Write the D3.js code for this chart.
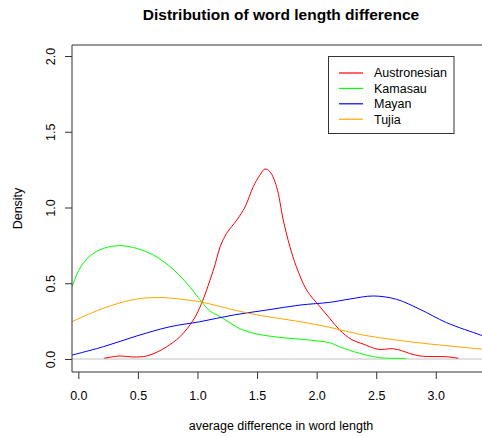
<!DOCTYPE html>
<html><head><meta charset="utf-8">
<script src="https://cdn.jsdelivr.net/npm/d3@7"></script>
<style>html,body{margin:0;padding:0;background:#fff;}svg{display:block;font-family:"Liberation Sans",Arial,sans-serif;}</style>
</head><body>
<svg id="c" width="482" height="437"></svg>
<script>
const seriesNames = ["Austronesian","Kamasau","Mayan","Tujia"];
const seriesColors = ["#ff0000","#00ff00","#0000ff","#ffa500"];
const austronesian = [[0.218,0.005],[0.35,0.02],[0.46,0.013],[0.574,0.02],[0.66,0.045],[0.74,0.08],[0.853,0.147],[0.965,0.257],[1.035,0.368],[1.105,0.52],[1.15,0.63],[1.19,0.741],[1.245,0.83],[1.33,0.917],[1.40,1.005],[1.468,1.137],[1.524,1.214],[1.566,1.254],[1.608,1.236],[1.664,1.137],[1.72,0.917],[1.776,0.741],[1.83,0.609],[1.916,0.455],[2.028,0.345],[2.11,0.268],[2.195,0.19],[2.29,0.13],[2.39,0.099],[2.517,0.064],[2.64,0.068],[2.713,0.055],[2.78,0.037],[2.867,0.02],[3.0,0.016],[3.09,0.015],[3.19,0.005]];
const kamasau = [[-0.053,0.477],[0.014,0.6],[0.098,0.68],[0.21,0.73],[0.35,0.748],[0.49,0.73],[0.63,0.686],[0.77,0.61],[0.91,0.50],[1.035,0.378],[1.10,0.32],[1.20,0.275],[1.357,0.20],[1.50,0.165],[1.69,0.143],[1.94,0.125],[2.11,0.107],[2.195,0.08],[2.363,0.037],[2.53,0.009],[2.755,0.004]];
const mayan = [[-0.053,0.026],[0.21,0.081],[0.49,0.152],[0.77,0.213],[1.02,0.246],[1.30,0.29],[1.58,0.323],[1.86,0.356],[2.11,0.374],[2.28,0.396],[2.476,0.416],[2.67,0.394],[2.867,0.328],[3.09,0.24],[3.376,0.158],[3.455,0.135]];
const tujia = [[-0.053,0.246],[0.21,0.335],[0.49,0.396],[0.713,0.405],[0.91,0.39],[1.02,0.378],[1.44,0.30],[1.86,0.246],[2.11,0.209],[2.39,0.158],[2.67,0.125],[2.95,0.099],[3.376,0.066],[3.455,0.06]];
const xTicks = [0,0.5,1.0,1.5,2.0,2.5,3.0];
const yTicks = [0,0.5,1.0,1.5,2.0];
const title = "Distribution of word length difference";
const xLabel = "average difference in word length";
const yLabel = "Density";

const series = [austronesian, kamasau, mayan, tujia];
const svg = d3.select("#c");
const L = 72, T = 45, R = 490, B = 372, W = 482;
const x = d3.scaleLinear().domain([-0.053, 3.455]).range([L, R]);
const y = d3.scaleLinear().domain([0, 2]).range([359, 56]);
const fs = "12.5px";
const ff = "'Liberation Sans', Arial, sans-serif";

svg.append("defs").append("clipPath").attr("id","clip").append("rect")
  .attr("x", L).attr("y", T).attr("width", W - L).attr("height", B - T);

// zero line
svg.append("path").attr("d", `M${L},${y(0)}H${W}`)
  .attr("stroke", "#d6d6d6").attr("stroke-width", 1.6).attr("fill", "none");

const line = d3.line().x(d => x(d[0])).y(d => y(d[1])).curve(d3.curveCatmullRom.alpha(0.5));
const g = svg.append("g").attr("clip-path", "url(#clip)");
series.forEach((s, i) => {
  g.append("path").attr("d", line(s)).attr("fill", "none")
    .attr("stroke", seriesColors[i]).attr("stroke-width", 1);
});

// box (right side beyond view)
svg.append("path").attr("d", `M${W},${T}H${L}V${B}H${W}`).attr("fill","none")
  .attr("stroke","#333").attr("stroke-width",1);

// x axis
const xa = svg.append("g").attr("transform", `translate(0,${B})`)
  .call(d3.axisBottom(x).tickValues(xTicks).tickFormat(d3.format(".1f")).tickSize(7));
xa.select(".domain").remove();
xa.selectAll(".tick line").attr("stroke", "#333");
xa.selectAll(".tick text").attr("y", 28).attr("dy", null).attr("fill", "#000")
  .style("font-size", fs).style("font-family", ff);

// y axis
const ya = svg.append("g").attr("transform", `translate(${L},0)`)
  .call(d3.axisLeft(y).tickValues(yTicks).tickFormat(d3.format(".1f")).tickSize(7));
ya.select(".domain").remove();
ya.selectAll(".tick line").attr("stroke", "#333");
ya.selectAll(".tick text").attr("x", null).attr("dy", null).attr("text-anchor", "middle")
  .attr("transform", "translate(-17,0) rotate(-90)").attr("fill", "#000")
  .style("font-size", fs).style("font-family", ff);

// title & labels
svg.append("text").attr("x", 281).attr("y", 20).attr("text-anchor", "middle")
  .style("font-size", "15.5px").style("font-weight", "bold").text(title);
svg.append("text").attr("x", 281).attr("y", 430).attr("text-anchor", "middle")
  .style("font-size", fs).text(xLabel);
svg.append("text").attr("transform", "translate(22,208.5) rotate(-90)").attr("text-anchor", "middle")
  .style("font-size", fs).text(yLabel);

// legend
const lg = svg.append("g");
lg.append("rect").attr("x", 328.5).attr("y", 56.5).attr("width", 125.5).attr("height", 77)
  .attr("fill", "#fff").attr("stroke", "#333").attr("stroke-width", 1);
seriesNames.forEach((n, i) => {
  const yy = 73 + i * 15.4;
  lg.append("path").attr("d", `M339,${yy}H363`).attr("fill", "none")
    .attr("stroke", seriesColors[i]).attr("stroke-width", 1.2);
  lg.append("text").attr("x", 374).attr("y", yy).attr("dy", "0.35em")
    .style("font-size", fs).text(n);
});
</script>
</body></html>
